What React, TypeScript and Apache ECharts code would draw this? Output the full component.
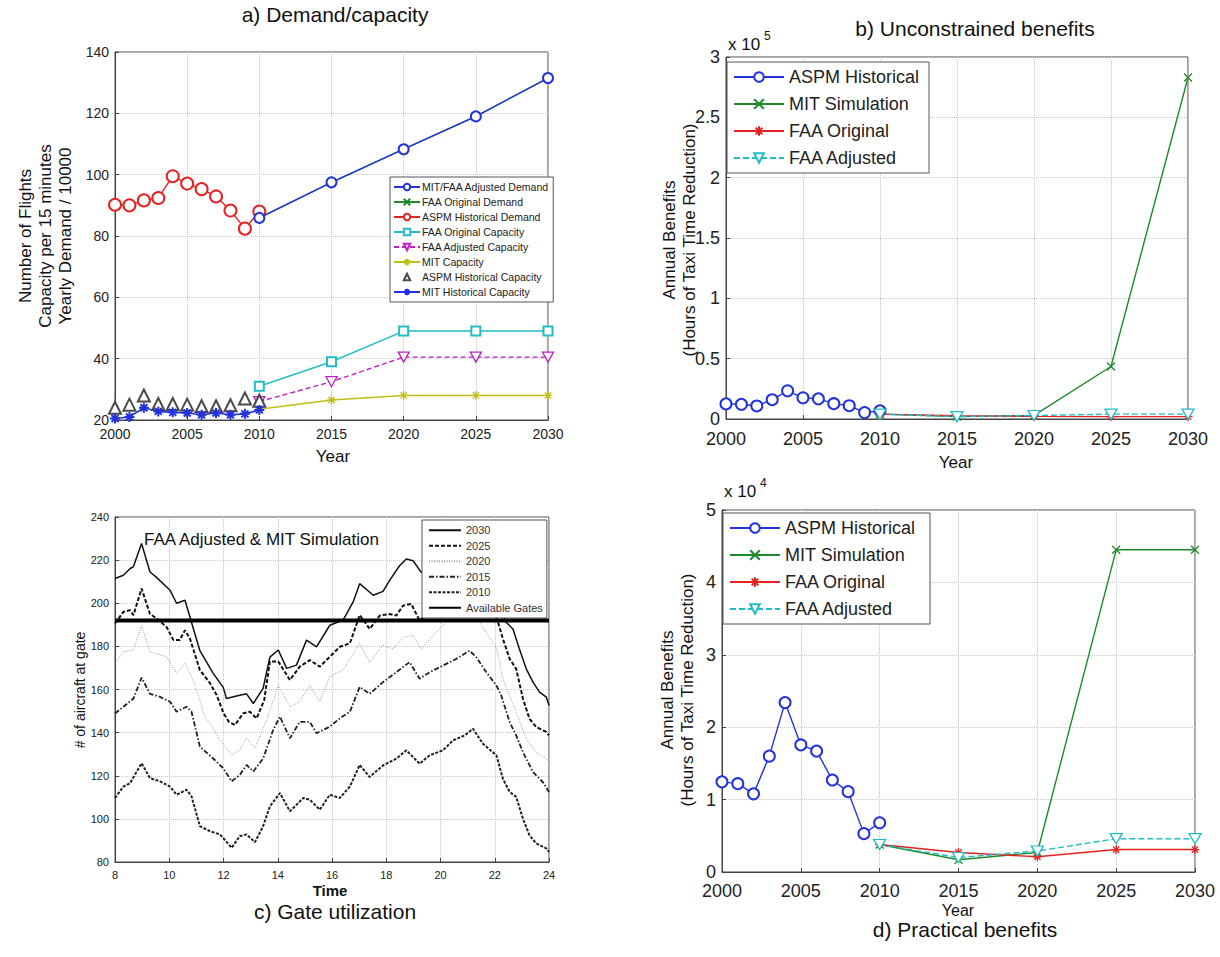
import React, { useEffect, useRef } from "react";
import * as echarts from "echarts";

const FONT = "'Liberation Sans', Arial, Helvetica, sans-serif";

// ---------- Panel a: demand / capacity ----------
const histYears = [2000, 2001, 2002, 2003, 2004, 2005, 2006, 2007, 2008, 2009, 2010];
const projYears = [2010, 2015, 2020, 2025, 2030];
const mitFaaAdjDemand = [85.9, 97.5, 108.3, 119.0, 131.5];
const faaOrigDemand = [85.9, 97.5, 108.3, 119.0, 131.5];
const aspmHistDemand = [90.2, 90.0, 91.6, 92.4, 99.5, 97.1, 95.3, 92.9, 88.3, 82.4, 88.0];
const faaOrigCapacity = [31, 39, 49, 49, 49];
const faaAdjCapacity = [26, 32.5, 40.5, 40.5, 40.5];
const mitCapacity = [23.5, 26.5, 28, 28, 28];
const aspmHistCapacity = [24, 25, 28, 25.2, 25.2, 25, 24.5, 24.5, 24.8, 27, 26.3];
const mitHistCapacity = [20.5, 21, 24, 22.8, 22.5, 22.3, 21.7, 22.3, 21.7, 22, 23.3];

// ---------- Panel b: unconstrained benefits (x 10^5 h) ----------
const aspmHistB = [0.125, 0.122, 0.108, 0.16, 0.234, 0.176, 0.167, 0.127, 0.11, 0.053, 0.068];
const mitSimB = [0.04, 0.02, 0.03, 0.435, 2.83];
const faaOrigB = [0.04, 0.027, 0.022, 0.02, 0.02];
const faaAdjB = [0.04, 0.02, 0.029, 0.04, 0.04];

// ---------- Panel d: practical benefits (x 10^4 h) ----------
const aspmHistD = [1.245, 1.22, 1.08, 1.6, 2.34, 1.755, 1.67, 1.27, 1.11, 0.53, 0.68];
const mitSimD = [0.38, 0.17, 0.27, 4.45, 4.45];
const faaOrigD = [0.38, 0.27, 0.21, 0.31, 0.31];
const faaAdjD = [0.38, 0.2, 0.29, 0.46, 0.46];

// ---------- Panel c: gate utilization [hour, aircraft] ----------
const gate2030 = [
  [8.0, 211.5], [8.31, 213], [8.55, 216], [8.68, 217], [8.98, 227.7], [9.29, 214.5], [9.53, 212],
  [10.03, 206], [10.27, 200], [10.58, 201.4], [10.76, 193.7], [11.13, 178], [11.62, 167.5],
  [11.99, 161], [12.11, 155.8], [12.48, 157], [12.85, 158], [13.1, 153.5], [13.46, 160.5],
  [13.71, 175], [14.02, 178.3], [14.33, 169.8], [14.69, 171.3], [15.06, 182.9], [15.43, 179.8],
  [15.92, 189.8], [16.41, 192.2], [16.78, 200.6], [17.02, 209.1], [17.52, 203.7], [17.88, 205.5],
  [18.13, 210.7], [18.49, 217.4], [18.74, 220.5], [18.99, 219.7], [19.29, 214.3], [19.7, 218],
  [20.2, 226], [20.7, 232], [21.1, 235], [21.6, 226], [22.0, 205], [22.42, 191.2], [22.67, 188.1],
  [22.91, 178.8], [23.16, 169.6], [23.41, 163.4], [23.65, 158.8], [23.9, 156.5], [24.0, 152.6],
];
const gate2025 = [
  [8.0, 190.6], [8.31, 196], [8.55, 196.8], [8.68, 194.5], [8.98, 206.8], [9.29, 195], [9.53, 193],
  [9.9, 189], [10.15, 183], [10.39, 183], [10.58, 187.5], [10.76, 183.7], [11.13, 169], [11.5, 163],
  [11.75, 157.4], [12.0, 149], [12.2, 145], [12.42, 143.5], [12.73, 149], [12.97, 149.7],
  [13.22, 146.6], [13.5, 155], [13.71, 173], [14.02, 173], [14.45, 164.4], [14.81, 170.6],
  [15.18, 173.6], [15.55, 170.6], [15.92, 175.2], [16.29, 179.8], [16.66, 181.4], [17.02, 194.5],
  [17.39, 188.1], [17.76, 194.3], [18.13, 195], [18.37, 194.3], [18.62, 198.9], [18.92, 199.7],
  [19.23, 192], [19.7, 197], [20.2, 205], [20.7, 210], [21.1, 212], [21.6, 205], [22.0, 195],
  [22.12, 191.2], [22.3, 183.5], [22.55, 174.2], [22.79, 169.6], [23.04, 155.7], [23.28, 146.4],
  [23.53, 142.6], [23.9, 140.3], [24.0, 138.7],
];
const gate2020 = [
  [8.0, 172.1], [8.31, 177.5], [8.68, 178.3], [8.98, 189.8], [9.29, 177.5], [9.9, 175.2],
  [10.27, 167.5], [10.58, 172.1], [10.88, 164.4], [11.13, 155.1], [11.3, 147.4], [11.5, 144.3],
  [11.87, 136.6], [12.3, 129.7], [12.6, 132], [12.85, 137.4], [13.16, 132.8], [13.59, 145.8],
  [14.02, 162], [14.45, 152], [14.81, 154.3], [15.18, 162], [15.55, 154.3], [15.92, 166],
  [16.41, 169], [17.02, 181.4], [17.39, 172.7], [17.88, 180.4], [18.25, 178.8], [18.62, 184.2],
  [18.99, 185], [19.29, 178.8], [19.6, 183.5], [20.21, 191.2], [20.6, 196], [21.0, 197],
  [21.44, 191.2], [21.75, 185], [22.06, 179.6], [22.3, 165], [22.55, 157.2], [22.79, 149.5],
  [23.16, 137.2], [23.53, 131], [23.9, 127.9], [24.0, 126.4],
];
const gate2015 = [
  [8.0, 148.9], [8.31, 152], [8.68, 155.8], [8.98, 165.5], [9.29, 158], [9.66, 156.6],
  [10.03, 154.3], [10.27, 149.7], [10.64, 152], [10.82, 149.7], [11.13, 133.5], [11.62, 128],
  [11.99, 123.5], [12.3, 117.4], [12.6, 120.4], [12.85, 125], [13.1, 122], [13.46, 128],
  [13.83, 141.2], [14.08, 147.4], [14.45, 137.4], [14.81, 145], [15.18, 145], [15.43, 139.7],
  [15.92, 142.8], [16.29, 146.6], [16.66, 149.7], [17.02, 161.2], [17.39, 158], [17.88, 163.4],
  [18.37, 168], [18.86, 172.7], [19.23, 165], [19.6, 168], [20.09, 171.1], [20.58, 174.2],
  [21.07, 178], [21.32, 175], [21.69, 168], [22.06, 161.9], [22.24, 157.2], [22.55, 144.9],
  [22.79, 138.7], [23.04, 131], [23.41, 121.7], [23.77, 117.1], [24.0, 112.5],
];
const gate2010 = [
  [8.0, 109.7], [8.31, 115], [8.55, 116.5], [8.98, 125.8], [9.29, 118.9], [9.66, 117.4],
  [10.03, 115], [10.27, 111.2], [10.64, 113.5], [10.82, 110.5], [11.13, 96.6], [11.5, 94.3],
  [11.87, 92.8], [12.3, 86.6], [12.6, 92], [12.85, 92.8], [13.16, 89.2], [13.46, 96.6],
  [13.71, 105.8], [14.08, 112], [14.45, 103.5], [14.94, 109.7], [15.18, 108.9], [15.55, 104.3],
  [15.92, 111.2], [16.29, 109.7], [16.66, 115], [17.02, 125], [17.39, 119.4], [17.88, 124.8],
  [18.37, 127.9], [18.74, 131.8], [19.23, 125.6], [19.6, 129.5], [20.09, 131.8], [20.46, 136.4],
  [20.89, 138.7], [21.2, 141.8], [21.56, 134.9], [22.06, 129.5], [22.3, 118.6], [22.55, 112.5],
  [22.79, 110.2], [23.04, 100.1], [23.28, 92.4], [23.53, 88.6], [23.9, 86.3], [24.0, 84.7],
];
const availableGates = 192;
const gateHours = [8, 24];

const SYM_X = "path://M0,0L10,10M10,0L0,10";
const SYM_STAR = "path://M5,0L5,10M0,5L10,5M1.5,1.5L8.5,8.5M8.5,1.5L1.5,8.5";
const SYM_TRI_DOWN = "path://M0,0L10,0L5,9Z";

const BLUE = "#2233dd";
const GREEN = "#1f8a2a";
const RED = "#e52222";
const CYAN = "#22bcc4";
const MAGENTA = "#c21fc2";
const YELLOW = "#bfbf1a";
const GRAY = "#4a4a4a";

const pair = (xs: number[], ys: number[]) => xs.map((x, i) => [x, ys[i]]);
const plain = (v: number) => String(v);

function axisCommon(fontSize: number, margin: number) {
  return {
    axisLine: { show: true, onZero: false, lineStyle: { color: "#444", width: 1 } },
    axisTick: { show: true, inside: true, length: 4, lineStyle: { color: "#444" } },
    splitLine: { show: true, lineStyle: { color: "#c8c8c8", type: "dotted", width: 1 } },
    axisLabel: { color: "#222", fontSize, fontFamily: FONT, margin, formatter: plain },
  };
}

function lineSeries(name: string, data: any, color: string, opts: any = {}) {
  const noSym = opts.symbol === "none";
  return {
    type: "line",
    name,
    data,
    symbol: noSym ? "none" : opts.symbol ?? "emptyCircle",
    symbolSize: noSym ? 0 : opts.symbolSize ?? 10,
    showSymbol: !noSym,
    xAxisIndex: opts.axis,
    yAxisIndex: opts.axis,
    lineStyle: { color, width: opts.width ?? 1.4, type: opts.dash ?? "solid" },
    itemStyle: {
      color: opts.fill ?? color,
      borderColor: color,
      borderWidth: noSym ? 0 : opts.borderWidth ?? 1.3,
    },
    z: opts.z ?? 3,
    clip: false,
  };
}

function txt(text: string, x: number, y: number, fontSize: number, extra: any = {}) {
  return {
    type: "text",
    x,
    y,
    rotation: extra.rotation ?? 0,
    z: 100,
    style: {
      text,
      fontSize,
      fontFamily: FONT,
      fontWeight: extra.bold ? "bold" : "normal",
      fill: "#111",
      textAlign: extra.align ?? "center",
      align: extra.align ?? "center",
      textVerticalAlign: "middle",
      verticalAlign: "middle",
      lineHeight: extra.lineHeight ?? fontSize * 1.2,
    },
  };
}

export default function App() {
  const ref = useRef<HTMLDivElement>(null);
  useEffect(() => {
    if (!ref.current) return;
    const chart = echarts.init(ref.current, undefined, { renderer: "svg" });
    const box = { show: true, borderColor: "#444", borderWidth: 1, containLabel: false };
    const option: any = {
      animation: false,
      backgroundColor: "#fff",
      textStyle: { fontFamily: FONT },
      grid: [
        { ...box, left: 115, top: 52, width: 433, height: 368 },
        { ...box, left: 726, top: 57, width: 462, height: 362 },
        { ...box, left: 115, top: 517, width: 434, height: 345 },
        { ...box, left: 722, top: 510, width: 473, height: 362 },
      ],
      xAxis: [
        { ...axisCommon(14, 7), type: "value", gridIndex: 0, min: 2000, max: 2030, interval: 5 },
        { ...axisCommon(18, 11), type: "value", gridIndex: 1, min: 2000, max: 2030, interval: 5 },
        { ...axisCommon(11, 7), type: "value", gridIndex: 2, min: 8, max: 24, interval: 2 },
        { ...axisCommon(18, 10), type: "value", gridIndex: 3, min: 2000, max: 2030, interval: 5 },
      ],
      yAxis: [
        { ...axisCommon(14, 6), type: "value", gridIndex: 0, min: 20, max: 140, interval: 20 },
        { ...axisCommon(18, 6), type: "value", gridIndex: 1, min: 0, max: 3, interval: 0.5 },
        { ...axisCommon(11, 6), type: "value", gridIndex: 2, min: 80, max: 240, interval: 20 },
        { ...axisCommon(18, 6), type: "value", gridIndex: 3, min: 0, max: 5, interval: 1 },
      ],
      legend: [
        {
          left: 390, top: 177, orient: "vertical", itemWidth: 26, itemHeight: 8, itemGap: 3,
          backgroundColor: "#fff", borderColor: "#555", borderWidth: 1, padding: [4, 4, 4, 3],
          textStyle: { fontSize: 10.5, fontFamily: FONT, color: "#222", lineHeight: 12, padding: [0, 0, 0, -3] },
          data: ["MIT/FAA Adjusted Demand", "FAA Original Demand", "ASPM Historical Demand", "FAA Original Capacity", "FAA Adjusted Capacity", "MIT Capacity", "ASPM Historical Capacity", "MIT Historical Capacity"],
        },
        {
          left: 727, top: 62, orient: "vertical", itemWidth: 50, itemHeight: 12, itemGap: 7,
          backgroundColor: "#fff", borderColor: "#555", borderWidth: 1, padding: [5, 10, 5, 6],
          textStyle: { fontSize: 18, fontFamily: FONT, color: "#222", lineHeight: 20 },
          data: ["ASPM Historical", "MIT Simulation", "FAA Original", "FAA Adjusted"],
        },
        {
          left: 422, top: 520, orient: "vertical", itemWidth: 32, itemHeight: 6, itemGap: 3,
          backgroundColor: "#fff", borderColor: "#555", borderWidth: 1, padding: [4, 4, 4, 6],
          itemStyle: { opacity: 0 },
          textStyle: { fontSize: 11, fontFamily: FONT, color: "#333", lineHeight: 12.5 },
          data: ["2030", "2025", "2020", "2015", "2010", "Available Gates"],
        },
        {
          left: 723, top: 513, orient: "vertical", itemWidth: 50, itemHeight: 12, itemGap: 7,
          backgroundColor: "#fff", borderColor: "#555", borderWidth: 1, padding: [5, 10, 5, 6],
          textStyle: { fontSize: 18, fontFamily: FONT, color: "#222", lineHeight: 20 },
          data: ["ASPM Historical ", "MIT Simulation ", "FAA Original ", "FAA Adjusted "],
        },
      ],
      series: [
        // panel a
        lineSeries("FAA Original Demand", pair(projYears, faaOrigDemand), GREEN, { axis: 0, symbol: SYM_X, symbolSize: 8 }),
        lineSeries("MIT/FAA Adjusted Demand", pair(projYears, mitFaaAdjDemand), BLUE, { axis: 0, symbol: "emptyCircle", symbolSize: 10, z: 4 }),
        lineSeries("ASPM Historical Demand", pair(histYears, aspmHistDemand), RED, { axis: 0, symbol: "emptyCircle", symbolSize: 12 }),
        lineSeries("FAA Original Capacity", pair(projYears, faaOrigCapacity), CYAN, { axis: 0, symbol: "emptyRect", symbolSize: 9 }),
        lineSeries("FAA Adjusted Capacity", pair(projYears, faaAdjCapacity), MAGENTA, { axis: 0, symbol: SYM_TRI_DOWN, symbolSize: [11, 10], fill: "#fff", dash: [5, 3] }),
        lineSeries("MIT Capacity", pair(projYears, mitCapacity), YELLOW, { axis: 0, symbol: SYM_STAR, symbolSize: 9, width: 1.6 }),
        lineSeries("ASPM Historical Capacity", pair(histYears, aspmHistCapacity), GRAY, { axis: 0, symbol: "emptyTriangle", symbolSize: 12, width: 0 }),
        lineSeries("MIT Historical Capacity", pair(histYears, mitHistCapacity), BLUE, { axis: 0, symbol: SYM_STAR, symbolSize: 10, width: 1.6, borderWidth: 2 }),
        // panel b
        lineSeries("ASPM Historical", pair(histYears, aspmHistB), BLUE, { axis: 1, symbol: "emptyCircle", symbolSize: 11 }),
        lineSeries("MIT Simulation", pair(projYears, mitSimB), GREEN, { axis: 1, symbol: SYM_X, symbolSize: 8 }),
        lineSeries("FAA Original", pair(projYears, faaOrigB), RED, { axis: 1, symbol: SYM_STAR, symbolSize: 9 }),
        lineSeries("FAA Adjusted", pair(projYears, faaAdjB), CYAN, { axis: 1, symbol: SYM_TRI_DOWN, symbolSize: [12, 10], fill: "#fff", dash: [6, 3] }),
        // panel c
        lineSeries("2030", gate2030, "#111", { axis: 2, symbol: "none", width: 1.5 }),
        lineSeries("2025", gate2025, "#111", { axis: 2, symbol: "none", width: 2, dash: [4, 2] }),
        lineSeries("2020", gate2020, "#9a9a9a", { axis: 2, symbol: "none", width: 1, dash: [1, 1.5] }),
        lineSeries("2015", gate2015, "#222", { axis: 2, symbol: "none", width: 1.8, dash: [5, 2, 1.5, 2] }),
        lineSeries("2010", gate2010, "#222", { axis: 2, symbol: "none", width: 2, dash: [3, 1.5] }),
        lineSeries("Available Gates", gateHours.map((h) => [h, availableGates]), "#000", { axis: 2, symbol: "none", width: 4, z: 5 }),
        // panel d
        lineSeries("ASPM Historical ", pair(histYears, aspmHistD), BLUE, { axis: 3, symbol: "emptyCircle", symbolSize: 11 }),
        lineSeries("MIT Simulation ", pair(projYears, mitSimD), GREEN, { axis: 3, symbol: SYM_X, symbolSize: 8 }),
        lineSeries("FAA Original ", pair(projYears, faaOrigD), RED, { axis: 3, symbol: SYM_STAR, symbolSize: 9 }),
        lineSeries("FAA Adjusted ", pair(projYears, faaAdjD), CYAN, { axis: 3, symbol: SYM_TRI_DOWN, symbolSize: [12, 10], fill: "#fff", dash: [6, 3] }),
      ],
      graphic: [
        txt("a) Demand/capacity", 335, 14, 21),
        txt("Number of Flights\nCapacity per 15 minutes\nYearly Demand / 10000", 45, 236, 17, { rotation: Math.PI / 2, lineHeight: 20 }),
        txt("Year", 333, 456, 17),
        txt("b) Unconstrained benefits", 975, 28, 21),
        txt("Annual Benefits\n(Hours of Taxi Time Reduction)", 679, 240, 17, { rotation: Math.PI / 2, lineHeight: 20 }),
        txt("Year", 956, 462, 17),
        txt("x 10", 728, 44, 17, { align: "left" }),
        txt("5", 764, 36, 12, { align: "left" }),
        txt("c) Gate utilization", 335, 911, 21),
        txt("# of aircraft at gate", 80, 690, 14, { rotation: Math.PI / 2 }),
        txt("Time", 330, 890, 15, { bold: true }),
        txt("FAA Adjusted & MIT Simulation", 144, 539, 17, { align: "left" }),
        txt("d) Practical benefits", 965, 929, 21),
        txt("Annual Benefits\n(Hours of Taxi Time Reduction)", 677, 690, 17, { rotation: Math.PI / 2, lineHeight: 20 }),
        txt("Year", 958, 910, 16),
        txt("x 10", 724, 491, 17, { align: "left" }),
        txt("4", 760, 483, 12, { align: "left" }),
      ],
    };
    chart.setOption(option);
    return () => chart.dispose();
  }, []);
  return (
    <div
      ref={ref}
      style={{ position: "absolute", left: 0, top: 0, width: 1220, height: 957, background: "#fff" }}
    />
  );
}
